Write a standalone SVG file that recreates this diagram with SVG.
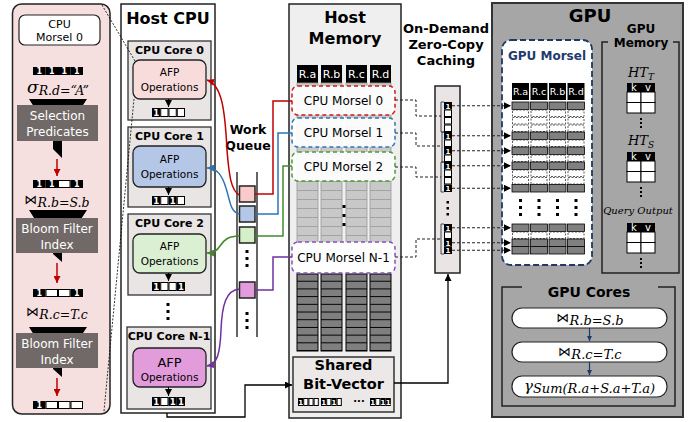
<svg xmlns="http://www.w3.org/2000/svg" width="690" height="422" viewBox="0 0 690 422">
<defs>
<style>
.t{font-family:"DejaVu Sans",sans-serif;fill:#000;text-anchor:middle}
.b{font-weight:bold}
.w{fill:#fff}
.m{font-family:"DejaVu Serif",serif;font-style:italic;text-anchor:middle;fill:#000}
.bow{font-family:"DejaVu Sans",sans-serif;font-style:normal}
.one{font-family:"DejaVu Sans",sans-serif;fill:#fff;text-anchor:middle;font-weight:bold}
.core{fill:#e8e5e4;stroke:#333;stroke-width:1.3}
.afp{stroke:#222;stroke-width:1.3}
.bar{fill:#000}
.q{stroke:#222;stroke-width:1.5}
.mor{fill:#fff;fill-opacity:0.92;stroke-width:1.5;stroke-dasharray:4 3}
.dl{fill:none;stroke:#222;stroke-width:1;stroke-dasharray:3 2}
.tbl{fill:#fff;stroke:#000;stroke-width:1}
.gb{fill:#fff;stroke:#222;stroke-width:1.2}
</style>
<marker id="ak" viewBox="0 0 10 10" refX="10" refY="5" markerUnits="userSpaceOnUse" markerWidth="7" markerHeight="7" orient="auto"><path d="M0,0L10,5L0,10z" fill="#000"/></marker>
<marker id="akr" viewBox="0 0 10 10" refX="10" refY="5" markerUnits="userSpaceOnUse" markerWidth="7" markerHeight="7" orient="auto"><path d="M0,0L10,5L0,10z" fill="#c00000"/></marker>
<marker id="akb" viewBox="0 0 10 10" refX="10" refY="5" markerUnits="userSpaceOnUse" markerWidth="7" markerHeight="7" orient="auto"><path d="M0,0L10,5L0,10z" fill="#2e75b6"/></marker>
<marker id="akg" viewBox="0 0 10 10" refX="10" refY="5" markerUnits="userSpaceOnUse" markerWidth="7" markerHeight="7" orient="auto"><path d="M0,0L10,5L0,10z" fill="#3f8a2c"/></marker>
<marker id="akp" viewBox="0 0 10 10" refX="10" refY="5" markerUnits="userSpaceOnUse" markerWidth="7" markerHeight="7" orient="auto"><path d="M0,0L10,5L0,10z" fill="#7030a0"/></marker>
<marker id="akn" viewBox="0 0 10 10" refX="10" refY="5" markerUnits="userSpaceOnUse" markerWidth="5" markerHeight="5" orient="auto"><path d="M0,0L10,5L0,10z" fill="#1f3864"/></marker>
<pattern id="lgp" patternUnits="userSpaceOnUse" x="0" y="83" width="100" height="9"><rect width="100" height="9" fill="#c8c8c8"/><path d="M0,8.5H100" stroke="#a2a2a2" stroke-width="1"/></pattern>
<pattern id="dgp" patternUnits="userSpaceOnUse" x="0" y="274" width="100" height="7.7"><rect width="100" height="7.7" fill="#7f7f7f"/><path d="M0,7.2H100" stroke="#000" stroke-width="1"/></pattern>
<g id="L1"><rect width="12.5" height="8" fill="#000"/><text x="6.25" y="7" class="one" font-size="8">1</text></g>
<g id="L0"><rect x="0.5" y="0.5" width="11.5" height="7" fill="#fff" stroke="#000"/></g>
<g id="S1"><rect width="8.25" height="9" fill="#000"/><text x="4.1" y="8" class="one" font-size="8.5">1</text></g>
<g id="S0"><rect x="0.5" y="0.5" width="7.25" height="8" fill="#fff" stroke="#000"/></g>
<g id="T1"><rect width="5.2" height="8" fill="#000"/><text x="2.6" y="7" class="one" font-size="7">1</text></g>
<g id="T0"><rect x="0.5" y="0.5" width="4.2" height="7" fill="#fff" stroke="#000"/></g>
<g id="C1"><rect width="8" height="7.5" fill="#000"/><text x="4" y="6.6" class="one" font-size="7">1</text></g>
<g id="C0"><rect x="0.5" y="0.5" width="7" height="6.5" fill="#fff" stroke="#000"/></g>
<g id="G1" fill="#808080" stroke="#000" stroke-width="0.8"><rect x="512" width="17" height="7.5"/><rect x="530.5" width="17" height="7.5"/><rect x="549" width="17" height="7.5"/><rect x="567.5" width="17" height="7.5"/></g>
<g id="G0" fill="#fff" stroke="#333" stroke-width="0.8" stroke-dasharray="2 1.5"><rect x="512.5" y="0.5" width="16" height="6.5"/><rect x="531" y="0.5" width="16" height="6.5"/><rect x="549.5" y="0.5" width="16" height="6.5"/><rect x="568" y="0.5" width="16" height="6.5"/></g>
<g id="dot3"><rect x="-1.5" y="0" width="3" height="3"/><rect x="-1.5" y="7" width="3" height="3"/><rect x="-1.5" y="14" width="3" height="3"/></g>
</defs>
<rect width="690" height="422" fill="#fff"/>

<!-- Left detail panel -->
<g id="afp-detail">
<rect x="12.5" y="4" width="97.5" height="410" rx="9" fill="#f6dfdf" stroke="#222" stroke-width="1.5"/>
<rect x="19" y="15" width="81" height="30" rx="6" fill="#fff" stroke="#222" stroke-width="1.2"/>
<text class="t" x="59.5" y="28" font-size="11">CPU</text>
<text class="t" x="59.5" y="41" font-size="11">Morsel 0</text>
<use href="#L1" x="33" y="67"/><use href="#L1" x="45.5" y="67"/><use href="#L1" x="58" y="67"/><use href="#L1" x="70.5" y="67"/>
<text class="m" x="58" y="93"><tspan font-size="17" font-style="italic">σ</tspan><tspan font-size="12.5" dy="2">R.d=“A”</tspan></text>
<polygon points="29,99 87,99 62,137 62,158 53,149 53,137" fill="#000"/>
<rect x="17" y="105" width="81" height="36" fill="#716967"/>
<text class="t w" x="57.5" y="120" font-size="12">Selection</text>
<text class="t w" x="57.5" y="136" font-size="12">Predicates</text>
<path d="M57,159V176" stroke="#c00000" stroke-width="1.5" marker-end="url(#akr)"/>
<use href="#L1" x="33" y="180"/><use href="#L1" x="45.5" y="180"/><use href="#L0" x="58" y="180"/><use href="#L1" x="70.5" y="180"/>
<text class="m" x="57" y="204"><tspan class="bow" font-size="13">⋈</tspan><tspan font-size="12.5" dy="3">R.b=S.b</tspan></text>
<polygon points="29,210 87,210 62,248 62,262 53,254 53,248" fill="#000"/>
<rect x="16" y="218" width="82" height="35" fill="#716967"/>
<text class="t w" x="57" y="233" font-size="12">Bloom Filter</text>
<text class="t w" x="57" y="249" font-size="12">Index</text>
<path d="M57,263V283" stroke="#c00000" stroke-width="1.5" marker-end="url(#akr)"/>
<use href="#L1" x="33" y="289"/><use href="#L0" x="45.5" y="289"/><use href="#L0" x="58" y="289"/><use href="#L1" x="70.5" y="289"/>
<text class="m" x="57" y="316"><tspan class="bow" font-size="13">⋈</tspan><tspan font-size="12.5" dy="3">R.c=T.c</tspan></text>
<polygon points="29,327 87,327 62,365 62,377 53,369 53,365" fill="#000"/>
<rect x="16" y="333" width="82" height="35" fill="#716967"/>
<text class="t w" x="57" y="348" font-size="12">Bloom Filter</text>
<text class="t w" x="57" y="364" font-size="12">Index</text>
<path d="M57,378V396" stroke="#c00000" stroke-width="1.5" marker-end="url(#akr)"/>
<use href="#L1" x="33" y="401"/><use href="#L0" x="45.5" y="401"/><use href="#L0" x="58" y="401"/><use href="#L0" x="70.5" y="401"/>
</g>

<!-- Host CPU -->
<g id="host-cpu">
<rect x="121" y="4" width="94" height="409" fill="#fff" stroke="#222" stroke-width="1.5"/>
<text class="t b" x="168" y="24" font-size="16">Host CPU</text>
</g>
<g id="cpu-core-0">
<rect class="core" x="128" y="41" width="83" height="79"/>
<text class="t b" x="169.5" y="54" font-size="11">CPU Core 0</text>
<rect class="afp" x="133" y="60" width="73" height="39" rx="7" fill="#f8dcdc"/>
<text class="t" x="169.5" y="76" font-size="10.5">AFP</text>
<text class="t" x="169.5" y="91" font-size="10.5">Operations</text>
<path d="M168.5,99V107" stroke="#000" stroke-width="1" marker-end="url(#ak)"/>
<use href="#S1" x="152" y="108"/><use href="#S0" x="160.25" y="108"/><use href="#S0" x="168.5" y="108"/><use href="#S0" x="176.75" y="108"/>
</g>
<g id="cpu-core-1">
<rect class="core" x="128" y="127" width="83" height="80"/>
<text class="t b" x="169.5" y="140" font-size="11">CPU Core 1</text>
<rect class="afp" x="133" y="146" width="73" height="41" rx="7" fill="#b4c7e7"/>
<text class="t" x="169.5" y="163" font-size="10.5">AFP</text>
<text class="t" x="169.5" y="178" font-size="10.5">Operations</text>
<path d="M168.5,187V195" stroke="#000" stroke-width="1" marker-end="url(#ak)"/>
<use href="#S1" x="152" y="196"/><use href="#S0" x="160.25" y="196"/><use href="#S1" x="168.5" y="196"/><use href="#S0" x="176.75" y="196"/>
</g>
<g id="cpu-core-2">
<rect class="core" x="128" y="214" width="83" height="81"/>
<text class="t b" x="169.5" y="227" font-size="11">CPU Core 2</text>
<rect class="afp" x="133" y="234" width="73" height="39" rx="7" fill="#dbf0d2"/>
<text class="t" x="169.5" y="250" font-size="10.5">AFP</text>
<text class="t" x="169.5" y="265" font-size="10.5">Operations</text>
<path d="M168.5,273V281" stroke="#000" stroke-width="1" marker-end="url(#ak)"/>
<use href="#S1" x="152" y="282"/><use href="#S0" x="160.25" y="282"/><use href="#S0" x="168.5" y="282"/><use href="#S1" x="176.75" y="282"/>
</g>
<use href="#dot3" x="168" y="303"/>
<g id="cpu-core-n1">
<rect class="core" x="127" y="327" width="84" height="82"/>
<text class="t b" x="169" y="340" font-size="11">CPU Core N-1</text>
<rect class="afp" x="133" y="348" width="73" height="39" rx="7" fill="#e29cdc"/>
<text class="t" x="169.5" y="367" font-size="13">AFP</text>
<text class="t" x="169.5" y="381" font-size="10.5">Operations</text>
<path d="M168.5,387V396" stroke="#000" stroke-width="1" marker-end="url(#ak)"/>
<use href="#S1" x="152" y="397"/><use href="#S0" x="160.25" y="397"/><use href="#S1" x="168.5" y="397"/><use href="#S1" x="176.75" y="397"/>
</g>

<!-- Work queue -->
<g id="work-queue">
<text class="t b" x="248" y="134" font-size="12.5">Work</text>
<text class="t b" x="248" y="150" font-size="12.5">Queue</text>
<path d="M237,172V337M257,172V337" stroke="#333" stroke-width="1.5"/>
<rect class="q" x="239.5" y="186" width="15.5" height="16" fill="#f8caca"/>
<rect class="q" x="239.5" y="206" width="15.5" height="16" fill="#b4c7e7"/>
<rect class="q" x="239.5" y="227" width="15.5" height="16" fill="#d5f0c8"/>
<rect class="q" x="239.5" y="282" width="15.5" height="16" fill="#e29cdc"/>
<use href="#dot3" x="247" y="250"/>
<use href="#dot3" x="247" y="312"/>
</g>

<!-- Host Memory -->
<g id="host-memory">
<rect x="289" y="4" width="112" height="414" fill="#f0efef" stroke="#222" stroke-width="1.5"/>
<text class="t b" x="345" y="23" font-size="16">Host</text>
<text class="t b" x="345" y="44" font-size="16">Memory</text>
<g fill="#000"><rect x="297" y="65" width="21" height="18"/><rect x="321" y="65" width="21" height="18"/><rect x="346" y="65" width="21" height="18"/><rect x="370" y="65" width="21" height="18"/></g>
<text class="t w" x="307.5" y="78" font-size="11">R.a</text>
<text class="t w" x="331.5" y="78" font-size="11">R.b</text>
<text class="t w" x="356.5" y="78" font-size="11">R.c</text>
<text class="t w" x="380.5" y="78" font-size="11">R.d</text>
<g fill="url(#lgp)" stroke="#9a9a9a" stroke-width="0.8"><rect x="297" y="83" width="21" height="160"/><rect x="321" y="83" width="21" height="160"/><rect x="346" y="83" width="21" height="160"/><rect x="370" y="83" width="21" height="160"/></g>
<g fill="#000"><rect x="342.5" y="205" width="3" height="3"/><rect x="342.5" y="214" width="3" height="3"/><rect x="342.5" y="223" width="3" height="3"/></g>
<g fill="url(#dgp)" stroke="#000" stroke-width="1"><rect x="297" y="274" width="21" height="77"/><rect x="321" y="274" width="21" height="77"/><rect x="346" y="274" width="21" height="77"/><rect x="370" y="274" width="21" height="77"/></g>
</g>
<g id="cpu-morsel-0"><rect class="mor" x="292" y="86" width="103" height="29" rx="6" stroke="#d01818"/><text class="t" x="343.5" y="105" font-size="12">CPU Morsel 0</text></g>
<g id="cpu-morsel-1"><rect class="mor" x="292" y="118" width="103" height="29" rx="6" stroke="#2e75b6"/><text class="t" x="343.5" y="137" font-size="12">CPU Morsel 1</text></g>
<g id="cpu-morsel-2"><rect class="mor" x="292" y="152" width="103" height="29" rx="6" stroke="#4e9a34"/><text class="t" x="343.5" y="171" font-size="12">CPU Morsel 2</text></g>
<g id="cpu-morsel-n1"><rect class="mor" x="292" y="242" width="103" height="31" rx="6" stroke="#8452b8"/><text class="t" x="343.5" y="262" font-size="12">CPU Morsel N-1</text></g>
<g id="shared-bit-vector">
<rect x="293" y="357" width="101" height="55" fill="#ece8e7" stroke="#333" stroke-width="1.5"/>
<text class="t b" x="343.5" y="370" font-size="14.5">Shared</text>
<text class="t b" x="343.5" y="389" font-size="14.5">Bit-Vector</text>
<use href="#T1" x="298" y="398"/><use href="#T0" x="303.2" y="398"/><use href="#T0" x="308.4" y="398"/><use href="#T0" x="313.6" y="398"/>
<use href="#T1" x="321" y="398"/><use href="#T0" x="326.2" y="398"/><use href="#T1" x="331.4" y="398"/><use href="#T0" x="336.6" y="398"/>
<text class="t b" x="359" y="405" font-size="10">···</text>
<use href="#T1" x="370" y="398"/><use href="#T0" x="375.2" y="398"/><use href="#T1" x="380.4" y="398"/><use href="#T1" x="385.6" y="398"/>
</g>

<!-- Caching -->
<g id="caching">
<text class="t b" x="446" y="33" font-size="13">On-Demand</text>
<text class="t b" x="446" y="49" font-size="13">Zero-Copy</text>
<text class="t b" x="446" y="65" font-size="13">Caching</text>
<rect x="435" y="86" width="25" height="187" fill="#e8e5e4" stroke="#222" stroke-width="1.5"/>
<path d="M444,102H441V132H444M444,132H442V162H444M444,162H441V192H444M444,224H441V254H444" fill="none" stroke="#222" stroke-width="0.8"/>
<use href="#C1" x="444" y="102"/><use href="#C0" x="444" y="109.5"/><use href="#C0" x="444" y="117"/><use href="#C0" x="444" y="124.5"/>
<use href="#C1" x="444" y="132"/><use href="#C0" x="444" y="139.5"/><use href="#C1" x="444" y="147"/><use href="#C0" x="444" y="154.5"/>
<use href="#C1" x="444" y="162"/><use href="#C0" x="444" y="169.5"/><use href="#C0" x="444" y="177"/><use href="#C1" x="444" y="184.5"/>
<g fill="#000"><rect x="446.5" y="201" width="2.5" height="2.5"/><rect x="446.5" y="207" width="2.5" height="2.5"/><rect x="446.5" y="213" width="2.5" height="2.5"/></g>
<use href="#C1" x="444" y="224"/><use href="#C0" x="444" y="231.5"/><use href="#C1" x="444" y="239"/><use href="#C1" x="444" y="246.5"/>
</g>

<!-- GPU -->
<g id="gpu">
<rect x="492" y="3" width="191" height="414" fill="#a6a6a6" stroke="#333" stroke-width="2"/>
<text class="t b" x="590" y="22" font-size="18">GPU</text>
</g>
<g id="gpu-morsel">
<rect x="502" y="40" width="90" height="225" rx="9" fill="#fff" stroke="#1f3864" stroke-width="1.8" stroke-dasharray="6 3"/>
<text class="t b" x="547" y="60" font-size="12" fill="#1f3b70" style="fill:#1f3b70">GPU Morsel</text>
<g fill="#000"><rect x="512" y="83" width="17" height="17"/><rect x="530.5" y="83" width="17" height="17"/><rect x="549" y="83" width="17" height="17"/><rect x="567.5" y="83" width="17" height="17"/></g>
<text class="t w" x="520.5" y="95" font-size="9.5">R.a</text>
<text class="t w" x="539" y="95" font-size="9.5">R.c</text>
<text class="t w" x="557.5" y="95" font-size="9.5">R.b</text>
<text class="t w" x="576" y="95" font-size="9.5">R.d</text>
<use href="#G1" y="102"/><use href="#G0" y="109.5"/><use href="#G0" y="117"/><use href="#G0" y="124.5"/>
<use href="#G1" y="132"/><use href="#G0" y="139.5"/><use href="#G1" y="147"/><use href="#G0" y="154.5"/>
<use href="#G1" y="162"/><use href="#G0" y="169.5"/><use href="#G0" y="177"/><use href="#G1" y="184.5"/>
<g fill="#000"><use href="#dot3" x="520.5" y="199" transform="scale(1)"/><use href="#dot3" x="539" y="199"/><use href="#dot3" x="557.5" y="199"/><use href="#dot3" x="576" y="199"/></g>
<use href="#G1" y="224"/><use href="#G0" y="231.5"/><use href="#G1" y="239"/><use href="#G1" y="246.5"/>
</g>
<g id="gpu-memory">
<path d="M608,42H602V273H679V42H673" fill="none" stroke="#222" stroke-width="1.5"/>
<text class="t b" x="641" y="33" font-size="12">GPU</text>
<text class="t b" x="641" y="47" font-size="12">Memory</text>
<text class="m" x="641" y="77"><tspan font-size="13">HT</tspan><tspan font-size="9" dy="3">T</tspan></text>
<rect x="627" y="83" width="28" height="9" fill="#000"/>
<text class="t w" x="634" y="91" font-size="10">k</text><text class="t w" x="648" y="91" font-size="10">v</text>
<rect class="tbl" x="627" y="92" width="14" height="10.5"/><rect class="tbl" x="641" y="92" width="14" height="10.5"/><rect class="tbl" x="627" y="102.5" width="14" height="10.5"/><rect class="tbl" x="641" y="102.5" width="14" height="10.5"/>
<g fill="#000"><rect x="640" y="118" width="2" height="2"/><rect x="640" y="122" width="2" height="2"/><rect x="640" y="126" width="2" height="2"/></g>
<text class="m" x="641" y="145"><tspan font-size="13">HT</tspan><tspan font-size="9" dy="3">S</tspan></text>
<rect x="627" y="152" width="28" height="9" fill="#000"/>
<text class="t w" x="634" y="160" font-size="10">k</text><text class="t w" x="648" y="160" font-size="10">v</text>
<rect class="tbl" x="627" y="161" width="14" height="10.5"/><rect class="tbl" x="641" y="161" width="14" height="10.5"/><rect class="tbl" x="627" y="171.5" width="14" height="10.5"/><rect class="tbl" x="641" y="171.5" width="14" height="10.5"/>
<g fill="#000"><rect x="640" y="187" width="2" height="2"/><rect x="640" y="191" width="2" height="2"/><rect x="640" y="195" width="2" height="2"/></g>
<text class="m" x="638" y="214" font-size="10">Query Output</text>
<rect x="627" y="223" width="28" height="9" fill="#000"/>
<text class="t w" x="634" y="231" font-size="10">k</text><text class="t w" x="648" y="231" font-size="10">v</text>
<rect class="tbl" x="627" y="232" width="14" height="10.5"/><rect class="tbl" x="641" y="232" width="14" height="10.5"/><rect class="tbl" x="627" y="242.5" width="14" height="10.5"/><rect class="tbl" x="641" y="242.5" width="14" height="10.5"/>
<g fill="#000"><rect x="640" y="258" width="2" height="2"/><rect x="640" y="262" width="2" height="2"/><rect x="640" y="266" width="2" height="2"/></g>
</g>
<g id="gpu-cores">
<path d="M522,287H502V406H675V287H658" fill="none" stroke="#222" stroke-width="1.5"/>
<text class="t b" x="589" y="297" font-size="14">GPU Cores</text>
<rect class="gb" x="512" y="308" width="155" height="20" rx="10"/>
<text class="m" x="590" y="322"><tspan class="bow" font-size="13">⋈</tspan><tspan font-size="13" dy="3">R.b=S.b</tspan></text>
<rect class="gb" x="512" y="342" width="155" height="20" rx="10"/>
<text class="m" x="590" y="356"><tspan class="bow" font-size="13">⋈</tspan><tspan font-size="13" dy="3">R.c=T.c</tspan></text>
<rect class="gb" x="512" y="376" width="155" height="21" rx="10"/>
<text class="m" x="589.5" y="391"><tspan font-size="15">γ</tspan><tspan font-size="13" dy="2">Sum(R.a+S.a+T.a)</tspan></text>
</g>

<!-- Connectors -->
<g id="connectors" fill="none">
<path d="M255,194H273V101H292" stroke="#c00000" stroke-width="1.5"/>
<path d="M239.5,195C231,191 229,175 227,150C225,110 222,85 207,80" stroke="#c00000" stroke-width="1.5" marker-end="url(#akr)"/>
<path d="M255,214H278V133H292" stroke="#2e75b6" stroke-width="1.5"/>
<path d="M239.5,214C230,212 230,200 226,188C222,175 217,168 207,168" stroke="#2e75b6" stroke-width="1.5" marker-end="url(#akb)"/>
<path d="M255,236H283V166H292" stroke="#3f8a2c" stroke-width="1.5"/>
<path d="M239.5,236C228,236 224,240 220,246C217,251 213,253 207,253" stroke="#3f8a2c" stroke-width="1.5" marker-end="url(#akg)"/>
<path d="M255,290H273V257H292" stroke="#7030a0" stroke-width="1.5"/>
<path d="M239.5,289C226,290 222,305 221,330C220,355 217,364 207,366" stroke="#7030a0" stroke-width="1.5" marker-end="url(#akp)"/>
<path d="M167,413V417H245V385H292" stroke="#000" stroke-width="1.3" marker-end="url(#ak)"/>
<path d="M394,383H448V274" stroke="#000" stroke-width="1.3" marker-end="url(#ak)"/>
<path d="M102,5L135,61M104,411L134,99" stroke="#000" stroke-width="0.8" stroke-dasharray="2 1.5"/>
<path class="dl" d="M395,100H416V116H441"/>
<path class="dl" d="M395,133H416V146H441"/>
<path class="dl" d="M395,167H416V177H441"/>
<path class="dl" d="M395,257H416V239H441"/>
<g class="dl" marker-end="url(#ak)">
<path d="M452,105.75H511"/><path d="M452,135.75H511"/><path d="M452,150.75H511"/><path d="M452,165.75H511"/>
<path d="M452,188.25H511"/><path d="M452,227.75H511"/><path d="M452,242.75H511"/><path d="M452,250.25H511"/>
</g>
<path d="M589.5,328V341" stroke="#1f3864" stroke-width="1.2" marker-end="url(#akn)"/>
<path d="M589.5,362V375" stroke="#1f3864" stroke-width="1.2" marker-end="url(#akn)"/>
</g>
</svg>
